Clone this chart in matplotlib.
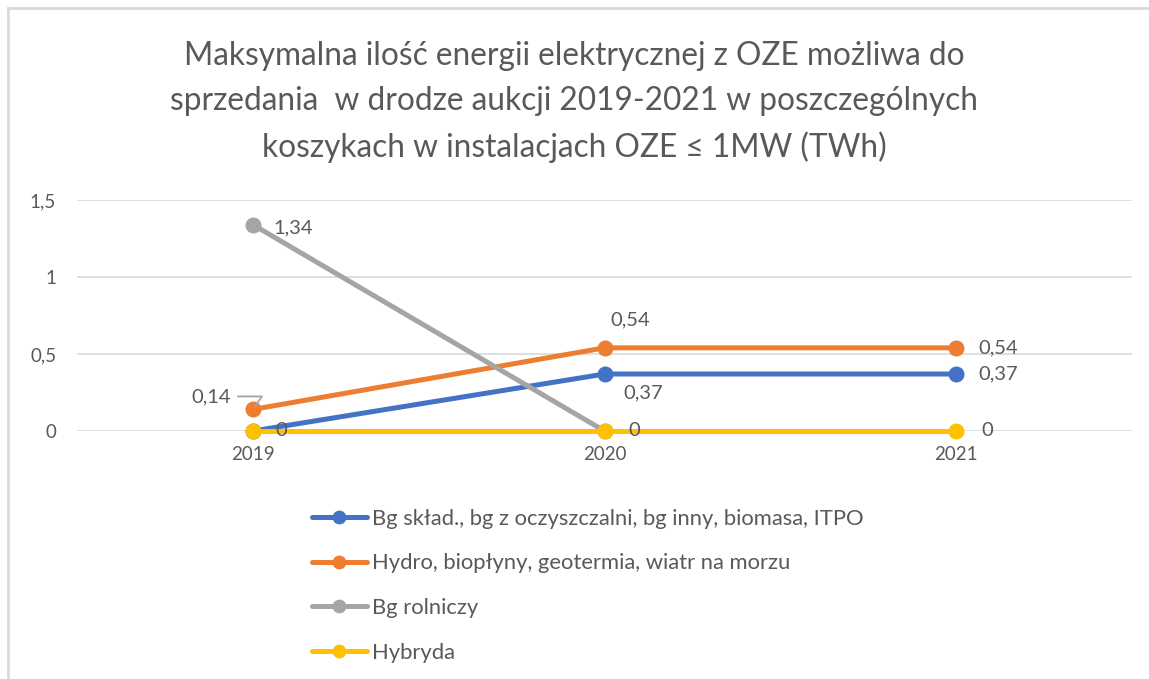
import matplotlib
matplotlib.use("Agg")
from matplotlib import pyplot as plt
from matplotlib.lines import Line2D

plt.rcParams['font.family'] = ['Lato', 'DejaVu Sans']

years = ['2019', '2020', '2021']
bg_sklad = [0, 0.37, 0.37]
hydro = [0.14, 0.54, 0.54]
bg_rolniczy = [1.34, 0, None]
hybryda = [0, 0, 0]

series_names = ['Bg skład., bg z oczyszczalni, bg inny, biomasa, ITPO',
                'Hydro, biopłyny, geotermia, wiatr na morzu',
                'Bg rolniczy',
                'Hybryda']
colors = ['#4472c4', '#ed7d31', '#a5a5a5', '#ffc000']
y_ticks = [0, 0.5, 1, 1.5]
y_tick_labels = ['0', '0,5', '1', '1,5']

title = ('Maksymalna ilość energii elektrycznej z OZE możliwa do\n'
         'sprzedania  w drodze aukcji 2019-2021 w poszczególnych\n'
         'koszykach w instalacjach OZE ≤ 1MW (TWh)')

txt = '#595959'

fig = plt.figure(figsize=(11.49, 6.79), dpi=100, facecolor='w')
# top and left frame edges (screenshot crop)
fig.add_artist(Line2D([8 / 1149, 1], [1 - 8 / 679, 1 - 8 / 679],
                      transform=fig.transFigure, color='#d9d9d9', lw=2))
fig.add_artist(Line2D([8 / 1149, 8 / 1149], [0, 1 - 8 / 679],
                      transform=fig.transFigure, color='#d9d9d9', lw=2))

ax = fig.add_axes([77 / 1149, 1 - 431 / 679, 1055 / 1149, 231 / 679])

xs = [0.5, 1.5, 2.5]
all_series = [bg_sklad, hydro, bg_rolniczy, hybryda]
for vals, name, c in zip(all_series, series_names, colors):
    px = [x for x, v in zip(xs, vals) if v is not None]
    pv = [v for v in vals if v is not None]
    ax.plot(px, pv, color=c, lw=3.6, marker='o', ms=10.5, label=name,
            clip_on=False, solid_capstyle='round', zorder=3)

ax.set_xlim(0, 3)
ax.set_ylim(0, 1.5)
ax.set_xticks(xs)
ax.set_xticklabels(years)
ax.set_yticks(y_ticks)
ax.set_yticklabels(y_tick_labels)
ax.tick_params(length=0, labelsize=13.5, labelcolor=txt)
ax.tick_params(axis='x', pad=11)
ax.tick_params(axis='y', pad=15)
ax.grid(axis='y', color='#d9d9d9', lw=1.2)
ax.set_axisbelow(True)
for s in ax.spines.values():
    s.set_visible(False)


def lab(x, y, s, dx, dy, ha='left'):
    ax.annotate(s, (x, y), xytext=(dx, dy), textcoords='offset pixels',
                ha=ha, va='center', fontsize=14.5, color=txt, zorder=5,
                annotation_clip=False)


# data labels
lab(xs[0], bg_sklad[0], '0', 23, 0)
lab(xs[1], bg_sklad[1], '0,37', 19, -19)
lab(xs[2], bg_sklad[2], '0,37', 22, 0)
ax.annotate('0,14', (xs[0], hydro[0]), xytext=(-22, 13), textcoords='offset pixels',
            ha='right', va='center', fontsize=14.5, color=txt,
            arrowprops=dict(arrowstyle='-', color='#a5a5a5', lw=1.3,
                            shrinkA=3, shrinkB=3,
                            connectionstyle='angle,angleA=0,angleB=55,rad=0'))
lab(xs[1], hydro[1], '0,54', 6, 28)
lab(xs[2], hydro[2], '0,54', 22, 0)
lab(xs[0], bg_rolniczy[0], '1,34', 21, -3)
lab(xs[1], bg_rolniczy[1], '0', 24, 0)
lab(xs[2], hybryda[2], '0', 25, 0)

fig.text(0.5, 1 - 102 / 679, title, ha='center', va='center', fontsize=22.8,
         color=txt, linespacing=1.6)

leg = fig.legend(loc='upper left', bbox_to_anchor=(303 / 1149, 1 - 500 / 679),
                 frameon=False, fontsize=15.8, labelcolor=txt, handlelength=2.5,
                 handletextpad=0.25, labelspacing=1.12, markerscale=0.85,
                 borderaxespad=0)

fig.savefig('out.png', dpi=100, facecolor='w')
